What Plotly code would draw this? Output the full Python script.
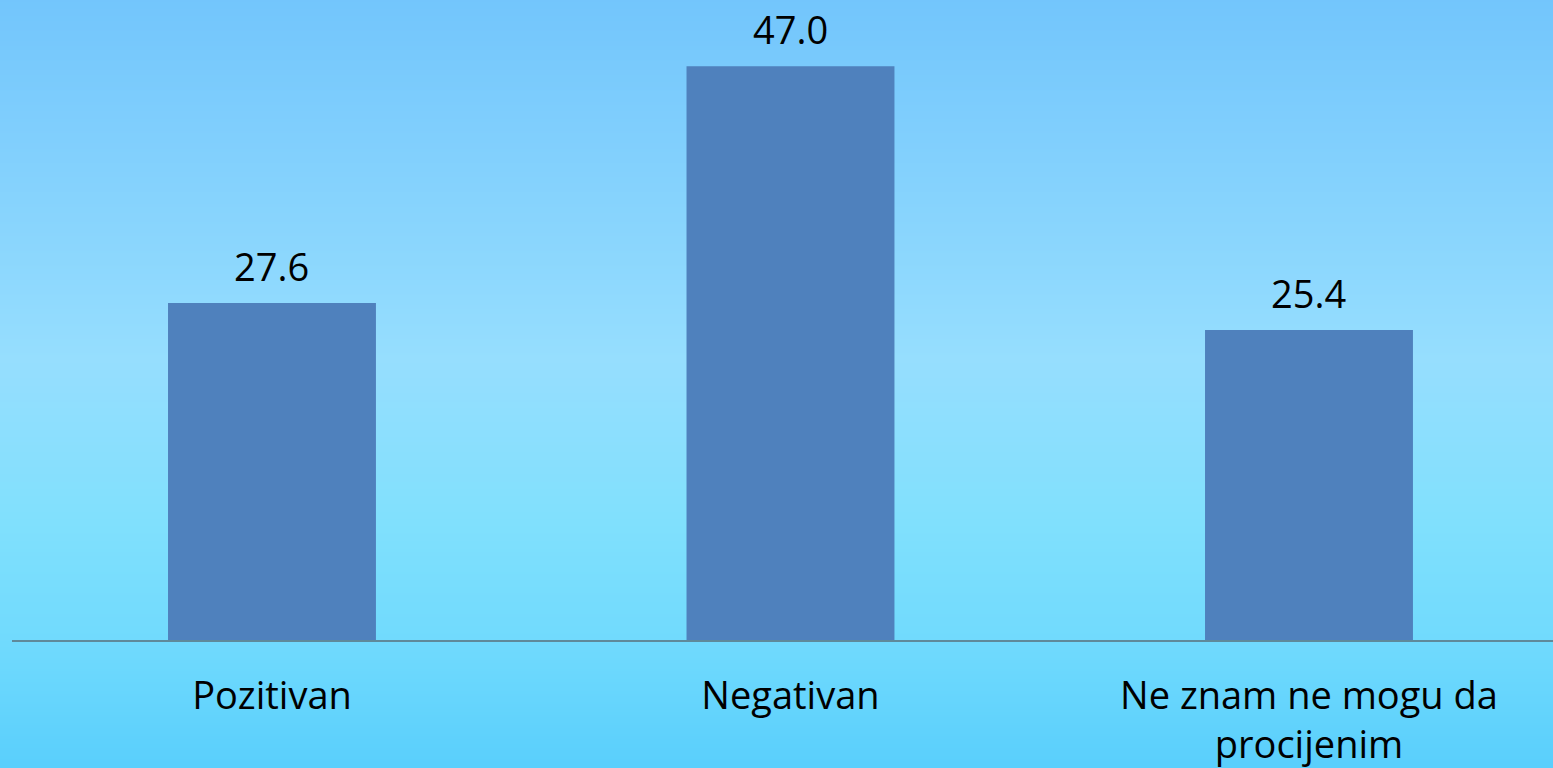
import base64, struct, zlib
import plotly.graph_objects as go

categories = ["Pozitivan", "Negativan", "Ne znam ne mogu da<br>procijenim"]
values = [27.6, 47.0, 25.4]
value_labels = ["27.6", "47.0", "25.4"]

W, H = 1553, 768
BAR_COLOR = "#4f81bd"
FONT = "Open Sans"

# vertical gradient background as an in-memory PNG (1 x H)
stops = [(0, (114, 197, 252)), (360, (150, 222, 254)), (520, (128, 224, 253)),
         (640, (112, 218, 253)), (768, (88, 206, 252))]

def col_at(y):
    for (y0, c0), (y1, c1) in zip(stops[:-1], stops[1:]):
        if y0 <= y <= y1:
            t = (y - y0) / (y1 - y0)
            return tuple(int(round(a + (b - a) * t)) for a, b in zip(c0, c1))
    return stops[-1][1]

raw = b"".join(b"\x00" + bytes(col_at(y)) for y in range(H))
def chunk(tag, data):
    c = struct.pack(">I", len(data)) + tag + data
    return c + struct.pack(">I", zlib.crc32(tag + data) & 0xffffffff)
png = (b"\x89PNG\r\n\x1a\n" + chunk(b"IHDR", struct.pack(">IIBBBBB", 1, H, 8, 2, 0, 0, 0))
       + chunk(b"IDAT", zlib.compress(raw)) + chunk(b"IEND", b""))
src = "data:image/png;base64," + base64.b64encode(png).decode()

ml, mr, mt, mb = 12, 0, 0, 128
pw, ph = W - ml - mr, H - mt - mb

x_idx = list(range(len(categories)))

fig = go.Figure(go.Bar(
    x=x_idx, y=values, marker_color=BAR_COLOR, marker_line_width=0, width=0.401,
    hoverinfo="skip",
))

for xi, v, lab in zip(x_idx, values, value_labels):
    fig.add_annotation(x=xi, y=v, text=lab, showarrow=False, yanchor="bottom",
                       yshift=9, font=dict(family=FONT, size=38, color="#000000"))

fig.add_layout_image(dict(source=src, xref="paper", yref="paper",
                          x=-ml / pw - 0.01, y=1 + mt / ph + 0.01,
                          sizex=1 + (ml + mr) / pw + 0.02, sizey=1 + (mt + mb) / ph + 0.02,
                          sizing="stretch", xanchor="left", yanchor="top", layer="below"))

fig.update_layout(
    width=W, height=H,
    margin=dict(l=ml, r=mr, t=mt, b=mb),
    paper_bgcolor="rgb(120,210,253)",
    plot_bgcolor="rgba(0,0,0,0)",
    showlegend=False,
    xaxis=dict(tickmode="array", tickvals=x_idx, ticktext=categories,
               range=[-0.5014, 2.4706], showgrid=False, zeroline=False,
               showline=True, linecolor="#5f8a9a", linewidth=2, ticks="",
               ticklabelstandoff=21,
               tickfont=dict(family=FONT, size=38, color="#000000")),
    yaxis=dict(range=[0, 52.42], visible=False, showgrid=False, zeroline=False),
)

fig.write_html("out.html", config={"displayModeBar": False, "staticPlot": True},
               post_script="document.body.style.margin='0';")
